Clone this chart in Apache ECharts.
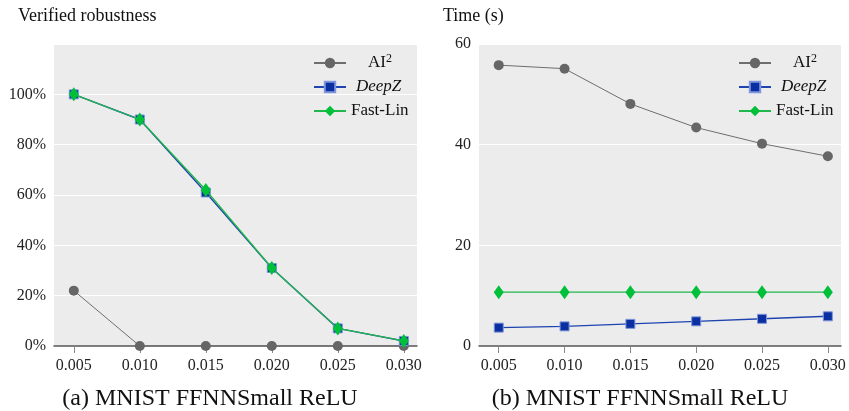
<!DOCTYPE html>
<html>
<head>
<meta charset="utf-8">
<script src="https://cdn.jsdelivr.net/npm/echarts@6/dist/echarts.min.js"></script>
<style>html,body{margin:0;padding:0;background:#fff}#c{width:849px;height:411px}</style>
</head>
<body>
<div id="c"></div>
<script>
var epsilons = [0.005, 0.010, 0.015, 0.020, 0.025, 0.030];
var robustAI2 = [22, 0, 0, 0, 0, 0];
var robustDeepZ = [100, 90, 61, 31, 7, 2];
var robustFastLin = [100, 90, 62, 31, 7, 2];
var timeAI2 = [55.8, 55.1, 48.1, 43.4, 40.2, 37.7];
var timeDeepZ = [3.65, 3.9, 4.4, 4.9, 5.4, 5.9];
var timeFastLin = [10.7, 10.7, 10.7, 10.7, 10.7, 10.7];
var robustTicks = [0, 20, 40, 60, 80, 100];
var timeTicks = [0, 20, 40, 60];

var FONT = '"Liberation Serif", "Times New Roman", serif';
function pairs(xs, ys) { return xs.map(function (x, i) { return [x, ys[i]]; }); }

var COL = {
  ai2: '#666666', ai2Line: '#6e6e6e',
  deep: '#0a2fa0', deepLine: '#1f44b0', deepBorder: '#7f95dc',
  fast: '#00c03a', fastLine: '#20b84a'
};

function xAxis(gi) {
  return {
    type: 'value', gridIndex: gi, min: 0.0035, max: 0.031,
    axisLine: { show: true, onZero: false, lineStyle: { color: '#555', width: 1.5 } },
    axisTick: { show: true, length: 7, lineStyle: { color: '#888', width: 1 }, customValues: epsilons },
    axisLabel: { customValues: epsilons, formatter: function (v) { return v.toFixed(3); },
      color: '#222', fontFamily: FONT, fontSize: 16, margin: 12 },
    splitLine: { show: false }
  };
}
function yAxis(gi, max, ticks, fmt) {
  return {
    type: 'value', gridIndex: gi, min: 0, max: max, interval: 20,
    axisLine: { show: false }, axisTick: { show: false },
    axisLabel: { color: '#222', fontFamily: FONT, fontSize: 16, margin: 8,
      formatter: function (v) { return ticks.indexOf(v) >= 0 ? fmt(v) : ''; } },
    splitLine: { show: true, lineStyle: { color: '#ffffff', width: 1.2 } }
  };
}
function mk(name, gi, xs, ys, kind) {
  var s = { name: name, type: 'line', xAxisIndex: gi, yAxisIndex: gi, data: pairs(xs, ys), z: 3 };
  if (kind === 'ai2') {
    s.symbol = 'circle'; s.symbolSize = 10;
    s.itemStyle = { color: COL.ai2 }; s.lineStyle = { color: COL.ai2Line, width: 1 };
  } else if (kind === 'deep') {
    s.symbol = 'rect'; s.symbolSize = 9;
    s.itemStyle = { color: COL.deep, borderColor: COL.deepBorder, borderWidth: 1 };
    s.lineStyle = { color: COL.deepLine, width: 1.4 }; s.z = 4;
  } else {
    s.symbol = 'diamond'; s.symbolSize = [10, 14];
    s.itemStyle = { color: COL.fast }; s.lineStyle = { color: COL.fastLine, width: 1.3 }; s.z = 5;
  }
  s.emphasis = { disabled: true }; s.animation = false;
  return s;
}
function legend(left) {
  return {
    orient: 'vertical', left: left, top: 48, itemWidth: 32, itemHeight: 13, itemGap: 7,
    data: ['AI2', 'DeepZ', 'Fast-Lin'],
    formatter: function (n) {
      if (n === 'AI2') return '{p1|}{n|AI}{s|2}';
      if (n === 'DeepZ') return '{p2|}{i|DeepZ}';
      return '{n|Fast-Lin}';
    },
    textStyle: {
      color: '#111',
      rich: {
        p1: { width: 17 },
        p2: { width: 5 },
        n: { fontFamily: FONT, fontSize: 17, color: '#111', height: 20 },
        i: { fontFamily: FONT, fontSize: 17, fontStyle: 'italic', color: '#111', height: 20 },
        s: { fontFamily: FONT, fontSize: 12, color: '#111', verticalAlign: 'top', padding: [0, 0, 8, 0] }
      }
    },
    selectedMode: false
  };
}

var chart = echarts.init(document.getElementById('c'), null, { renderer: 'canvas' });
chart.setOption({
  animation: false,
  backgroundColor: '#ffffff',
  grid: [
    { left: 54, right: 432, top: 44, bottom: 65, show: true, backgroundColor: '#ececec', borderWidth: 0 },
    { left: 479, right: 8, top: 44, bottom: 65, show: true, backgroundColor: '#ececec', borderWidth: 0 }
  ],
  xAxis: [xAxis(0), xAxis(1)],
  yAxis: [
    yAxis(0, 120, robustTicks, function (v) { return v + '%'; }),
    yAxis(1, 60, timeTicks, function (v) { return String(v); })
  ],
  legend: [legend(308), legend(733)],
  series: [
    mk('AI2', 0, epsilons, robustAI2, 'ai2'),
    mk('DeepZ', 0, epsilons, robustDeepZ, 'deep'),
    mk('Fast-Lin', 0, epsilons, robustFastLin, 'fast'),
    mk('AI2', 1, epsilons, timeAI2, 'ai2'),
    mk('DeepZ', 1, epsilons, timeDeepZ, 'deep'),
    mk('Fast-Lin', 1, epsilons, timeFastLin, 'fast')
  ],
  graphic: [
    { type: 'text', left: 18, top: 7, style: { text: 'Verified robustness', font: '18px ' + FONT, fill: '#111' } },
    { type: 'text', left: 443, top: 7, style: { text: 'Time (s)', font: '18px ' + FONT, fill: '#111' } },
    { type: 'text', x: 210, y: 399, style: { text: '(a) MNIST FFNNSmall ReLU', font: '24px ' + FONT, fill: '#111', align: 'center', verticalAlign: 'middle' } },
    { type: 'text', x: 640, y: 399, style: { text: '(b) MNIST FFNNSmall ReLU', font: '24px ' + FONT, fill: '#111', align: 'center', verticalAlign: 'middle' } }
  ]
});
</script>
</body>
</html>
